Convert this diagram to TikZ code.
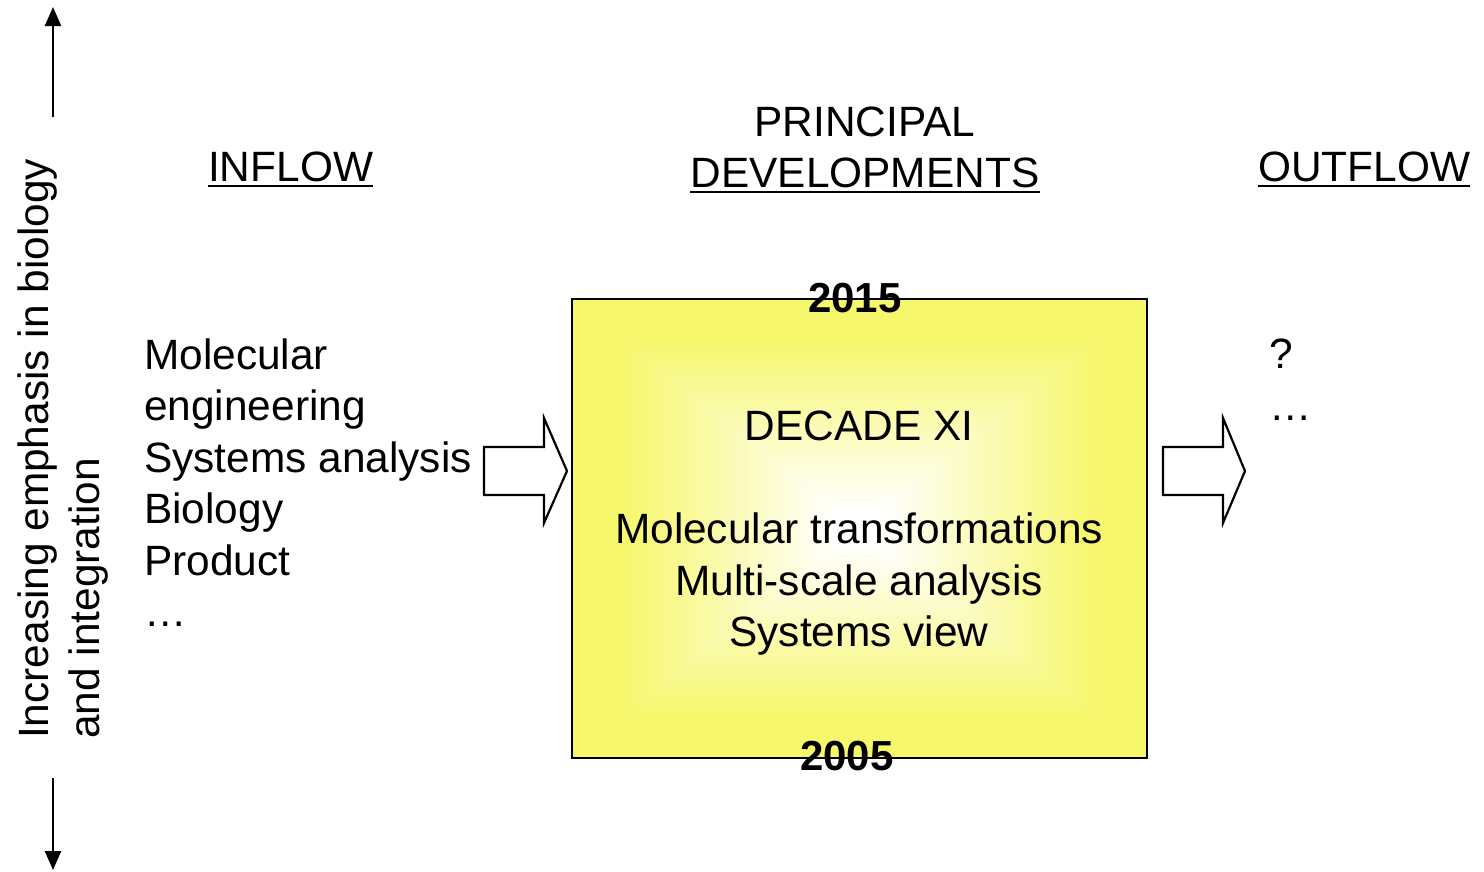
\documentclass[tikz,border=0pt]{standalone}
\usepackage{fontspec}
\setmainfont{Liberation Sans}
\usetikzlibrary{arrows.meta}
\definecolor{boxyellow}{RGB}{247,247,110}
\begin{document}
\begin{tikzpicture}[x=1pt,y=-1pt,
    every node/.style={inner sep=0pt},
    txt/.style={font=\fontsize{42.4}{51.5}\selectfont},
    yeartxt/.style={font=\fontsize{42}{51.5}\selectfont\bfseries},
    ulinestyle/.style={line width=2.2pt},
    blockarrow/.style={draw, line width=2.2pt, fill=white, line join=miter},
    axisarrow/.style={line width=2.4pt, -{Triangle[width=16pt,length=19pt]}}]
\useasboundingbox (0,0) rectangle (1484,871);

% ---- side axis ----
\coordinate (upfrom) at (53,117);
\coordinate (upto) at (53,7);
\coordinate (downfrom) at (53,778);
\coordinate (downto) at (53,870);
\draw[axisarrow] (upfrom) -- (upto);
\draw[axisarrow] (downfrom) -- (downto);
\node[txt, rotate=90, anchor=base west] (axis1) at (48,739) {Increasing emphasis in biology};
\node[txt, rotate=90, anchor=base west] (axis2) at (99,739) {and integration};

% ---- column headings ----
\node[txt, anchor=base west] (inflow) at (208,181.5) {INFLOW};
\draw[ulinestyle] ([yshift=-4.5pt]inflow.base west) -- ([yshift=-4.5pt]inflow.base east);
\node[txt, anchor=base] (princ) at (865,136.5) {PRINCIPAL};
\node[txt, anchor=base] (devel) at (865,187.5) {DEVELOPMENTS};
\draw[ulinestyle] ([yshift=-4.5pt]devel.base west) -- ([yshift=-4.5pt]devel.base east);
\node[txt, anchor=base west] (outflow) at (1258,181.5) {OUTFLOW};
\draw[ulinestyle] ([yshift=-4.5pt]outflow.base west) -- ([yshift=-4.5pt]outflow.base east);

% ---- inflow list ----
\node[txt, anchor=base west] (in1) at (144,369) {Molecular};
\node[txt, anchor=base west] (in2) at (144,420.5) {engineering};
\node[txt, anchor=base west] (in3) at (144,472) {Systems analysis};
\node[txt, anchor=base west] (in4) at (144,523.5) {Biology};
\node[txt, anchor=base west] (in5) at (144,575) {Product};
\node[txt, anchor=base west] (in6) at (144,626.5) {…};

% ---- central box with rectangular yellow-to-white shading ----
\foreach \i in {0,...,70}{
  \pgfmathsetmacro{\t}{1-\i/70}
  \pgfmathsetmacro{\p}{max(0,min(100,(\t-0.08)/0.74*100))}
  \fill[boxyellow!\p!white] (859.5-287.5*\t,528.5-229.5*\t) rectangle (859.5+287.5*\t,528.5+229.5*\t);
}
\node[draw, line width=1.8pt, minimum width=575pt, minimum height=459pt] (box) at (859.5,528.5) {};
\node[yeartxt, anchor=base] (y2015) at (855,312.5) {2015};
\node[yeartxt, anchor=base] (y2005) at (847,770.5) {2005};
\node[txt, anchor=base] (decade) at (859,440.5) {DECADE XI};
\node[txt, anchor=base] (dev1) at (859,543.5) {Molecular transformations};
\node[txt, anchor=base] (dev2) at (859,595) {Multi-scale analysis};
\node[txt, anchor=base] (dev3) at (859,646.5) {Systems view};

% ---- outflow ----
\node[txt, anchor=base west] (out1) at (1269,368.5) {?};
\node[txt, anchor=base west] (out2) at (1269,420) {…};

% ---- block arrows ----
\draw[blockarrow] (484,447) -- (544,447) -- (544,418) -- (567,471) -- (544,523) -- (544,495) -- (484,495) -- cycle;
\draw[blockarrow] (1163,447) -- (1223,447) -- (1223,418) -- (1245,471) -- (1223,523) -- (1223,495) -- (1163,495) -- cycle;
\end{tikzpicture}
\end{document}
